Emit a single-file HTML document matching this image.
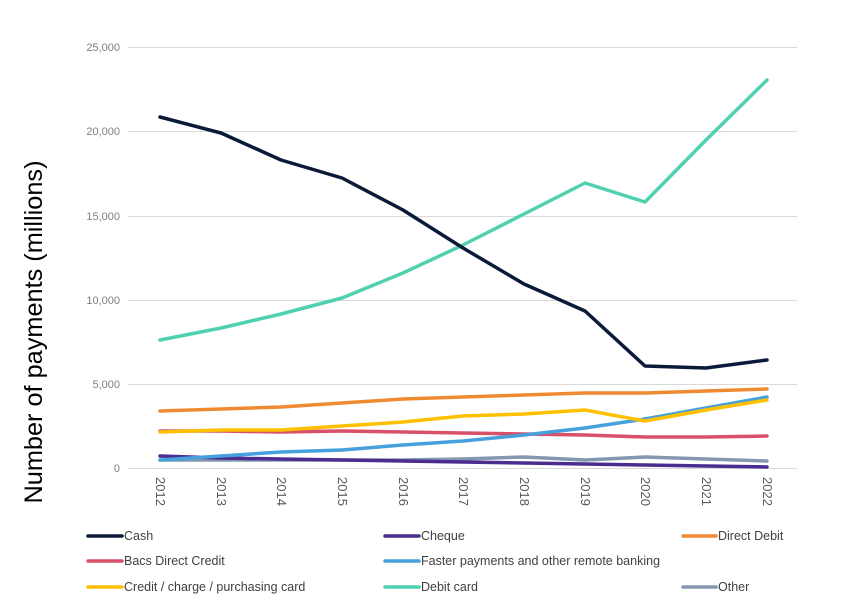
<!DOCTYPE html>
<html><head><meta charset="utf-8"><style>
body{margin:0;background:#fff;}
svg{display:block;font-family:"Liberation Sans",sans-serif;}
</style></head><body>
<svg width="855" height="609" viewBox="0 0 855 609">
<g stroke="#d9d9d9" stroke-width="1">
<line x1="128" x2="797" y1="47.5" y2="47.5"/>
<line x1="128" x2="797" y1="131.5" y2="131.5"/>
<line x1="128" x2="797" y1="216.5" y2="216.5"/>
<line x1="128" x2="797" y1="300.5" y2="300.5"/>
<line x1="128" x2="797" y1="384.5" y2="384.5"/>
<line x1="128" x2="797" y1="468.5" y2="468.5"/>
</g>
<g fill="#7f7f7f" font-size="11" text-anchor="end">
<text x="120" y="51">25,000</text>
<text x="120" y="135">20,000</text>
<text x="120" y="220">15,000</text>
<text x="120" y="304">10,000</text>
<text x="120" y="388">5,000</text>
<text x="120" y="472">0</text>
</g>
<g fill="#595959" font-size="13">
<text transform="translate(156,477) rotate(90)">2012</text>
<text transform="translate(217,477) rotate(90)">2013</text>
<text transform="translate(277,477) rotate(90)">2014</text>
<text transform="translate(338,477) rotate(90)">2015</text>
<text transform="translate(399,477) rotate(90)">2016</text>
<text transform="translate(459,477) rotate(90)">2017</text>
<text transform="translate(520,477) rotate(90)">2018</text>
<text transform="translate(581,477) rotate(90)">2019</text>
<text transform="translate(641,477) rotate(90)">2020</text>
<text transform="translate(702,477) rotate(90)">2021</text>
<text transform="translate(763,477) rotate(90)">2022</text>
</g>
<text transform="translate(42,332) rotate(-90)" text-anchor="middle" font-size="25" textLength="343" lengthAdjust="spacingAndGlyphs" fill="#000">Number of payments (millions)</text>
<g fill="none" stroke-width="3.5" stroke-linejoin="round" stroke-linecap="round">
<polyline stroke="#8497b0" points="160,460 221,460 281,460 342,460 403,460 463,459 524,457 585,460 645,457 706,459 767,461"/>
<polyline stroke="#4b2c8f" points="160,456 221,458 281,459 342,460 403,461 463,462 524,463 585,464 645,465 706,466 767,467"/>
<polyline stroke="#d9506a" points="160,431 221,431 281,432 342,431 403,432 463,433 524,434 585,435 645,437 706,437 767,436"/>
<polyline stroke="#46a0dc" points="160,460 221,456 281,452 342,450 403,445 463,441 524,435 585,428 645,419 706,408 767,397"/>
<polyline stroke="#ffc000" points="160,432 221,430 281,430 342,426 403,422 463,416 524,414 585,410 645,421 706,410 767,400"/>
<polyline stroke="#f08a32" points="160,411 221,409 281,407 342,403 403,399 463,397 524,395 585,393 645,393 706,391 767,389"/>
<polyline stroke="#4fd1b0" points="160,340 221,328 281,314 342,298 403,273 463,245 524,214 585,183 645,202 706,140 767,80"/>
<polyline stroke="#0c1a3a" points="160,117 221,133 281,160 342,178 403,210 463,248 524,284 585,311 645,366 706,368 767,360"/>
</g>
<g stroke-width="3.5" stroke-linecap="round">
<line x1="88" x2="122" y1="536" y2="536" stroke="#0c1a3a"/>
<line x1="385" x2="419" y1="536" y2="536" stroke="#4b2c8f"/>
<line x1="683" x2="716" y1="536" y2="536" stroke="#f08a32"/>
<line x1="88" x2="122" y1="561" y2="561" stroke="#d9506a"/>
<line x1="385" x2="419" y1="561" y2="561" stroke="#46a0dc"/>
<line x1="88" x2="122" y1="587" y2="587" stroke="#ffc000"/>
<line x1="385" x2="419" y1="587" y2="587" stroke="#4fd1b0"/>
<line x1="683" x2="716" y1="587" y2="587" stroke="#8497b0"/>
</g>
<g fill="#404040" font-size="12.5">
<text x="124" y="540">Cash</text>
<text x="421" y="540">Cheque</text>
<text x="718" y="540">Direct Debit</text>
<text x="124" y="565">Bacs Direct Credit</text>
<text x="421" y="565">Faster payments and other remote banking</text>
<text x="124" y="591">Credit / charge / purchasing card</text>
<text x="421" y="591">Debit card</text>
<text x="718" y="591">Other</text>
</g>
</svg>
</body></html>
